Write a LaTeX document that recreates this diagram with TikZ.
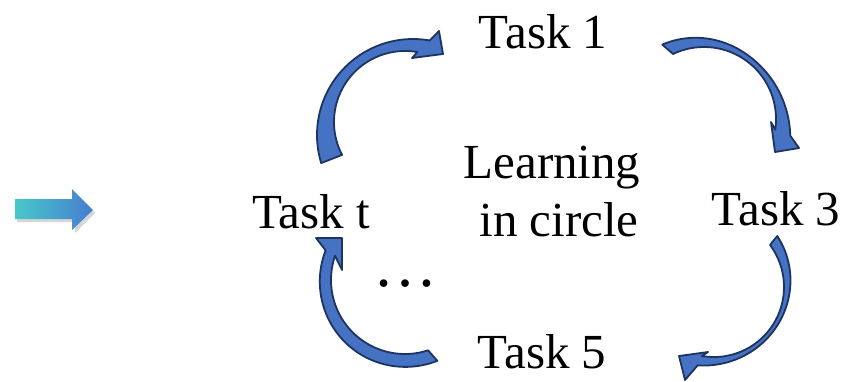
\documentclass[tikz,border=0pt]{standalone}
\usepackage{fontspec}
\setmainfont{Liberation Serif}
\usetikzlibrary{shadings}
\definecolor{arrowfill}{RGB}{70,114,196}
\definecolor{arrowedge}{RGB}{30,52,96}
\definecolor{tealA}{RGB}{72,200,200}
\definecolor{blueA}{RGB}{70,125,210}
\tikzset{
  label/.style={font=\fontsize{49}{58}\selectfont, inner sep=0pt, anchor=base},
  bentarrow/.style={fill=arrowfill, draw=arrowedge, line width=1.8pt, line join=round},
  arc edge/.style={samples=60, variable=\t},
}
\begin{document}
\begin{tikzpicture}[x=1pt,y=-1pt]
\useasboundingbox (0,0) rectangle (844,381);

% straight gradient arrow on the left, with a soft shadow
\fill[black, opacity=0.16]
  (17,202) -- (75,202) -- (75,192) -- (95,213) -- (75,233) -- (75,222) -- (17,222) -- cycle;
\shade[left color=tealA, right color=blueA]
  (15,199) -- (72,199) -- (72,189) -- (93,210) -- (72,230) -- (72,219) -- (15,219) -- cycle;

% labels
\node[label] (t1) at (543,48) {Task 1};
\node[label] (t3) at (776,225) {Task 3};
\node[label] (tt) at (311,228) {Task t};
\node[label] (t5) at (542,368) {Task 5};
\node[label] (l1) at (552,178) {Learning};
\node[label] (l2) at (559,236) {in circle};
\node[font=\fontsize{64}{70}\selectfont, inner sep=0pt, anchor=base] (dots) at (405,286) {…};

% curved arrow: Task t -> Task 1
\draw[bentarrow]
  plot[arc edge, domain=163:280] ({413+96*cos(\t)}, {135+96*sin(\t)})
  -- (439,31) -- (443,54) -- (412,58)
  -- plot[arc edge, domain=280:152.4] ({405+71*cos(\t)}, {122+71*sin(\t)})
  -- cycle;

% curved arrow: Task 1 -> Task 3
\draw[bentarrow]
  plot[arc edge, domain=257:356]
    ({685+((\t<300) ? (108-7*((\t-300)/43)^2) : (108-2.5*((\t-300)/56)^2))*cos(\t)},
     {143+((\t<300) ? (108-7*((\t-300)/43)^2) : (108-2.5*((\t-300)/56)^2))*sin(\t)})
  -- (799,148) -- (775,152) -- (771,122)
  -- plot[arc edge, domain=368.5:244.5] ({704+72*cos(\t)}, {119+72*sin(\t)})
  -- cycle;

% curved arrow: Task 3 -> Task 5
\draw[bentarrow]
  plot[arc edge, domain=-30:96.6]
    ({708+(80+10*(\t+30)/127)*cos(\t)}, {276+(80+10*(\t+30)/127)*sin(\t)})
  -- (685,380) -- (679,356) -- (708,352)
  -- plot[arc edge, domain=99.9:-36.9] ({714+70*cos(\t)}, {287+70*sin(\t)})
  -- cycle;

% curved arrow: Task 5 -> Task t
\draw[bentarrow]
  plot[arc edge, domain=64.4:204.7]
    ({401+(80+3.5*((\t-140)/70)^2)*cos(\t)}, {285+(80+3.5*((\t-140)/70)^2)*sin(\t)})
  -- (316,238) -- (342,238) -- (342,270)
  -- plot[arc edge, domain=199.1:71.8] ({405+74*cos(\t)}, {280+74*sin(\t)})
  -- cycle;
\end{tikzpicture}
\end{document}
